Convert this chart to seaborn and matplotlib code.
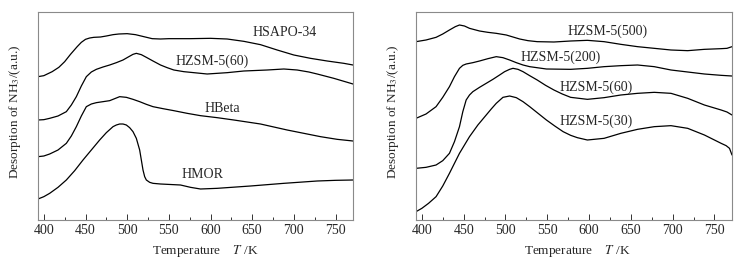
import numpy as np
import pandas as pd
import seaborn as sns
import matplotlib
matplotlib.use("Agg")
import matplotlib.pyplot as plt
from matplotlib.ticker import MultipleLocator

# 数据 (信号为任意单位, 已按曲线偏移; 数值取自图像纵坐标)
t_sapo = [393, 400, 410, 418, 425, 432, 440, 445, 450, 455, 460, 468, 475, 483, 490, 500, 510, 520, 530, 540, 550, 575, 600, 620, 640, 660, 680, 700, 720, 740, 760, 771]
y_sapo = [230, 227, 215, 202, 185, 163, 140, 127, 118, 114, 112, 111, 108, 104, 102, 101, 104, 110, 116, 117, 116, 116, 115, 117, 124, 134, 150, 165, 175, 183, 190, 195]

t_z60a = [393, 400, 407, 417, 427, 433, 439, 445, 451, 457, 463, 471, 479, 487, 495, 502, 507, 511, 517, 523, 531, 540, 548, 556, 568, 580, 596, 620, 640, 668, 688, 704, 718, 728, 748, 771]
y_z60a = [360, 359, 355, 348, 335, 315, 290, 258, 230, 216, 208, 201, 195, 188, 180, 170, 163, 160, 164, 172, 183, 195, 203, 210, 215, 218, 222, 218, 213, 210, 207, 210, 216, 222, 235, 252]

t_beta = [393, 400, 407, 417, 427, 433, 439, 445, 451, 457, 463, 471, 479, 485, 491, 499, 507, 515, 523, 531, 543, 556, 572, 588, 608, 628, 660, 692, 712, 732, 752, 771]
y_beta = [470, 468, 462, 450, 430, 408, 380, 348, 320, 312, 308, 305, 302, 296, 290, 292, 298, 305, 313, 320, 326, 332, 340, 347, 353, 360, 372, 390, 400, 410, 418, 423]

t_mor = [393, 400, 407, 417, 427, 437, 447, 457, 467, 475, 483, 487, 491, 495, 499, 503, 507, 511, 515, 517, 519, 521, 523, 527, 531, 540, 548, 564, 576, 588, 608, 648, 688, 728, 750, 771]
y_mor = [597, 590, 580, 562, 540, 512, 480, 450, 420, 398, 380, 375, 372, 372, 375, 383, 395, 415, 450, 480, 510, 530, 540, 547, 550, 552, 553, 555, 562, 567, 565, 558, 550, 543, 541, 540]

t_z500 = [393, 405, 417, 425, 433, 440, 445, 451, 457, 463, 469, 479, 489, 501, 509, 517, 527, 538, 558, 578, 598, 618, 638, 658, 678, 698, 718, 738, 758, 765, 771]
y_z500 = [125, 120, 112, 102, 90, 80, 75, 78, 85, 89, 93, 97, 100, 105, 111, 117, 122, 125, 126, 123, 121, 125, 133, 140, 145, 150, 152, 148, 146, 145, 140]

t_z200 = [393, 405, 417, 425, 433, 439, 445, 449, 453, 461, 469, 479, 489, 497, 505, 513, 521, 529, 549, 578, 598, 618, 638, 658, 678, 698, 718, 738, 758, 771]
y_z200 = [355, 342, 320, 292, 260, 230, 205, 196, 192, 188, 183, 176, 170, 173, 180, 188, 195, 200, 207, 208, 205, 200, 197, 195, 200, 210, 216, 222, 226, 228]

t_z60b = [393, 405, 417, 425, 433, 439, 445, 449, 453, 457, 461, 469, 477, 485, 493, 499, 505, 509, 515, 521, 529, 538, 548, 558, 568, 578, 598, 618, 638, 658, 678, 698, 718, 738, 758, 765, 771]
y_z60b = [505, 502, 495, 482, 460, 425, 380, 335, 300, 285, 275, 262, 250, 238, 225, 215, 208, 205, 208, 215, 227, 240, 256, 270, 282, 292, 298, 293, 285, 280, 277, 280, 295, 315, 330, 336, 345]

t_z30 = [393, 400, 408, 417, 425, 433, 439, 445, 451, 457, 467, 477, 483, 489, 497, 505, 513, 521, 529, 539, 549, 559, 569, 578, 586, 598, 618, 638, 658, 678, 698, 718, 738, 758, 764, 768, 771]
y_z30 = [635, 625, 610, 590, 558, 520, 490, 460, 435, 410, 375, 345, 327, 310, 292, 288, 293, 305, 320, 340, 360, 378, 395, 406, 413, 420, 415, 400, 388, 380, 377, 385, 405, 430, 437, 445, 465]

left_series = [("HSAPO-34", t_sapo, y_sapo), ("HZSM-5(60)", t_z60a, y_z60a),
               ("HBeta", t_beta, y_beta), ("HMOR", t_mor, y_mor)]
right_series = [("HZSM-5(500)", t_z500, y_z500), ("HZSM-5(200)", t_z200, y_z200),
                ("HZSM-5(60)", t_z60b, y_z60b), ("HZSM-5(30)", t_z30, y_z30)]

left_labels = [("HSAPO-34", 689, 98), ("HZSM-5(60)", 602, 185), ("HBeta", 614, 325), ("HMOR", 591, 525)]
right_labels = [("HZSM-5(500)", 622, 95), ("HZSM-5(200)", 566, 172), ("HZSM-5(60)", 608, 262), ("HZSM-5(30)", 608, 365)]


def to_df(series):
    rows = []
    for name, t, y in series:
        # 图像坐标 -> 向上为正
        rows.append(pd.DataFrame({"T": t, "s": 660 - np.array(y), "name": name}))
    return pd.concat(rows, ignore_index=True)


sns.set_style("ticks")
plt.rcParams["font.family"] = "serif"
plt.rcParams["font.serif"] = ["Liberation Serif", "DejaVu Serif"]
plt.rcParams["mathtext.fontset"] = "stix"

fig = plt.figure(figsize=(7.41, 2.62), dpi=100)
ax1 = fig.add_axes([38 / 741, 42 / 262, 315 / 741, 208 / 262])
ax2 = fig.add_axes([416 / 741, 42 / 262, 316 / 741, 208 / 262])

for ax, series, labels, xl in [(ax1, left_series, left_labels, 0.53),
                               (ax2, right_series, right_labels, 0.51)]:
    df = to_df(series)
    sns.lineplot(data=df, x="T", y="s", units="name", estimator=None, sort=False,
                 color="black", linewidth=0.9, ax=ax, legend=False)
    for text, tx, zy in labels:
        ax.text(tx, 660 - zy, text, ha="center", va="center", fontsize=10)
    ax.set_xlim(393, 771)
    ax.set_ylim(0, 624)
    ax.set_yticks([])
    ax.xaxis.set_major_locator(MultipleLocator(50))
    ax.xaxis.set_minor_locator(MultipleLocator(25))
    ax.tick_params(axis="x", which="major", direction="in", length=4, width=0.7,
                   labelsize=10, pad=3, color="#333333")
    ax.tick_params(axis="x", which="minor", direction="in", length=2, width=0.7, color="#333333")
    for sp in ax.spines.values():
        sp.set_visible(True)
        sp.set_color("#8a8a8a")
        sp.set_linewidth(0.8)
    ax.set_xlabel("Temperature    $T$ /K", fontsize=9.5, labelpad=2)
    ax.xaxis.set_label_coords(xl, -0.11)
    ax.set_ylabel("Desorption of NH$_3$/(a.u.)", fontsize=9.5)
    ax.yaxis.set_label_coords(-0.047, 0.52)

fig.savefig("out.png", dpi=100)
